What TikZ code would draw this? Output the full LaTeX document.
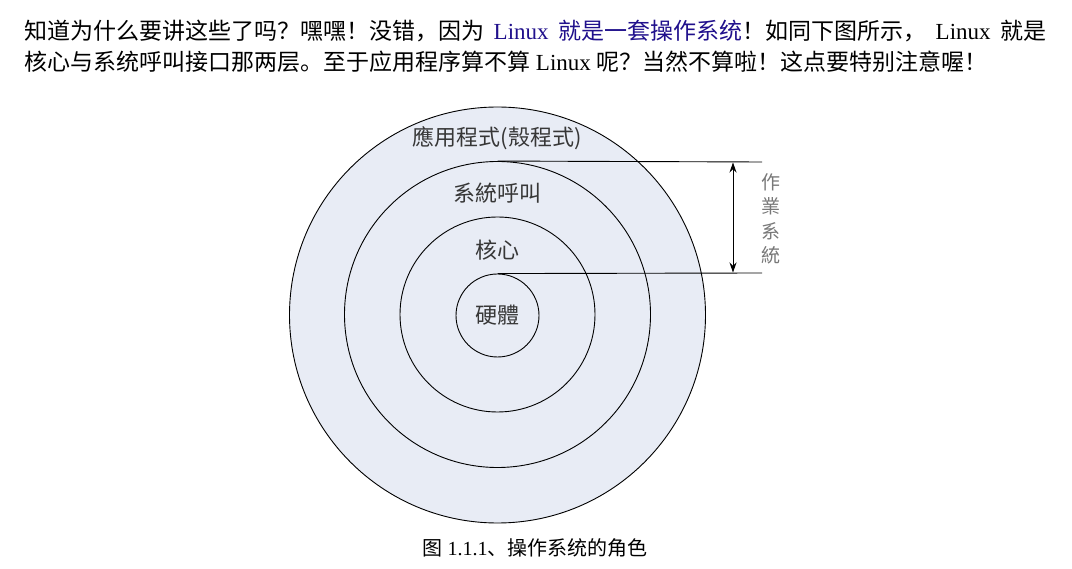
\documentclass[tikz,border=0pt]{standalone}
\usepackage{fontspec}
\setmainfont{Liberation Serif}
\newfontfamily\cjksc{Noto Sans CJK SC}
\newfontfamily\cjktc{Noto Sans CJK TC}
\usetikzlibrary{arrows.meta}
\definecolor{ringfill}{RGB}{232,236,245}
\definecolor{linkblue}{RGB}{32,16,140}
\definecolor{labelgray}{RGB}{55,55,55}
\definecolor{osgray}{RGB}{120,120,120}
\begin{document}
\begin{tikzpicture}[x=1pt,y=-1pt,
  ring/.style={circle,draw=black,line width=0.9pt,fill=ringfill,inner sep=0pt},
  lbl/.style={inner sep=0pt,text=labelgray,font=\fontsize{22}{24}\selectfont\cjktc},
  para/.style={inner sep=0pt,anchor=west,font=\fontsize{23}{26}\selectfont},
  guide/.style={draw=black,line width=0.9pt},
  dimarrow/.style={draw=black,line width=0.9pt,{Stealth[length=10pt,width=7pt]}-{Stealth[length=10pt,width=7pt]}}]
\useasboundingbox (0,0) rectangle (1072,569);
\fill[white] (0,0) rectangle (1072,569);
% paragraph
\node[para] (l1) at (24,31) {\makebox[1022pt][s]{{\cjksc 知道为什么要讲这些了吗？嘿嘿！没错，因为} {\color{linkblue}Linux {\cjksc 就是一套操作系统}}{\cjksc ！如同下图所示，} Linux {\cjksc 就是}}};
\node[para] (l2) at (24,62) {{\cjksc 核心与系统呼叫接口那两层。至于应用程序算不算} Linux {\cjksc 呢？当然不算啦！这点要特别注意喔！}};
% rings
\node[ring,minimum size=416pt] (app) at (497.5,315) {};
\node[ring,minimum size=306pt] (sys) at (497.5,314.5) {};
\node[ring,minimum size=195pt] (ker) at (497.5,314.5) {};
\node[ring,minimum size=83pt] (hw) at (497.5,315.5) {};
% labels
\node[lbl] (appl) at (497,138) {應用程式(殼程式)};
\node[lbl] (sysl) at (497,193) {系統呼叫};
\node[lbl] (kerl) at (497,250) {核心};
\node[lbl] (hwl) at (497.5,315.5) {硬體};
% guide lines
\coordinate (g1) at (762,162);
\coordinate (g2) at (762,273);
\draw[guide] (sys.north) -- (g1);
\draw[guide] (hw.north) -- (g2);
\coordinate (a1) at (733,162.5);
\coordinate (a2) at (733,272.5);
\draw[dimarrow] (a1) -- (a2);
\node[inner sep=0pt,align=center,text=osgray,font=\fontsize{19}{24.5}\selectfont\cjktc] (os) at (771,219) {作\\業\\系\\統};
% caption
\node[inner sep=0pt,font=\fontsize{20}{22}\selectfont] (cap) at (535,548) {{\cjksc 图} 1.1.1{\cjksc 、操作系统的角色}};
\end{tikzpicture}
\end{document}
